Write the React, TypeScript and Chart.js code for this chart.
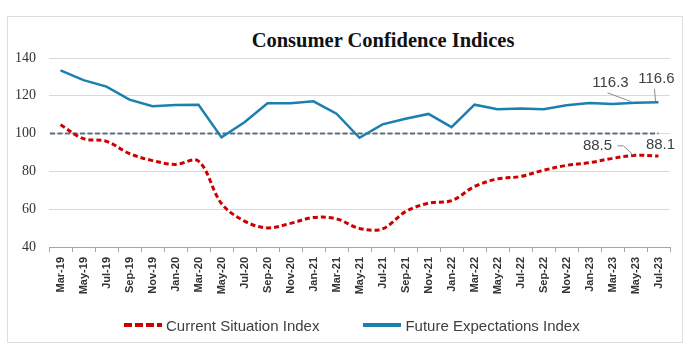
import React, { useEffect, useRef } from "react";
import { Chart, registerables } from "chart.js";

Chart.register(...registerables);

const categories = [
  "Mar-19", "May-19", "Jul-19", "Sep-19", "Nov-19", "Jan-20", "Mar-20", "May-20", "Jul-20",
  "Sep-20", "Nov-20", "Jan-21", "Mar-21", "May-21", "Jul-21", "Sep-21", "Nov-21", "Jan-22",
  "Mar-22", "May-22", "Jul-22", "Sep-22", "Nov-22", "Jan-23", "Mar-23", "May-23", "Jul-23",
];

const currentSituation = [
  104.7, 97.3, 95.9, 89.4, 85.7, 83.7, 85.4, 63.0, 53.7,
  50.1, 52.5, 55.6, 54.9, 49.8, 49.6, 58.7, 63.2, 64.5,
  72.0, 76.0, 77.3, 80.6, 83.2, 84.6, 86.9, 88.5, 88.1,
];

const futureExpectations = [
  133.5, 128.3, 124.9, 118.0, 114.5, 115.1, 115.2, 98.0, 106.0,
  116.1, 116.0, 117.1, 110.5, 97.8, 104.9, 107.9, 110.4, 103.4,
  115.3, 112.9, 113.3, 112.9, 115.0, 116.2, 115.7, 116.3, 116.6,
];

const seriesNames = ["Current Situation Index", "Future Expectations Index"];
const yTicks = { min: 40, max: 140, step: 20 };
const referenceLevel = 100;
const labelledIndices = [25, 26];

const RED = "#cc0000";
const BLUE = "#1b7fb0";
const LABEL_FONT = "'Liberation Sans', Arial, sans-serif";

const annotationPlugin = {
  id: "annotations",
  beforeDatasetsDraw(chart: any) {
    const { ctx, chartArea, scales } = chart;
    const y = scales.y.getPixelForValue(referenceLevel);
    const xEnd = scales.x.getPixelForValue(categories.length - 1);
    ctx.save();
    ctx.strokeStyle = "#5a6e80";
    ctx.lineWidth = 2;
    ctx.setLineDash([5, 2.5]);
    ctx.beginPath();
    ctx.moveTo(chartArea.left + 1, y);
    ctx.lineTo(xEnd, y);
    ctx.stroke();
    ctx.restore();
  },
  afterDatasetsDraw(chart: any) {
    const { ctx, scales } = chart;
    const pt = (ds: number[], i: number) => ({
      x: scales.x.getPixelForValue(i),
      y: scales.y.getPixelForValue(ds[i]),
    });
    ctx.save();
    ctx.font = "15px " + LABEL_FONT;
    ctx.fillStyle = "#404040";
    ctx.textAlign = "center";
    ctx.textBaseline = "middle";
    ctx.strokeStyle = "#8c8c8c";
    ctx.lineWidth = 1;

    const [iA, iB] = labelledIndices;
    let p = pt(futureExpectations, iA);
    ctx.fillText(futureExpectations[iA].toFixed(1), p.x - 25, p.y - 20);
    ctx.beginPath();
    ctx.moveTo(p.x - 28, p.y - 10);
    ctx.lineTo(p.x - 4, p.y - 1);
    ctx.stroke();

    p = pt(futureExpectations, iB);
    ctx.fillText(futureExpectations[iB].toFixed(1), p.x - 2, p.y - 23.5);
    ctx.beginPath();
    ctx.moveTo(p.x - 4, p.y - 13.5);
    ctx.lineTo(p.x - 3, p.y - 1);
    ctx.stroke();

    p = pt(currentSituation, iA);
    ctx.fillText(currentSituation[iA].toFixed(1), p.x - 38, p.y - 9);
    ctx.beginPath();
    ctx.moveTo(p.x - 18, p.y - 9.5);
    ctx.lineTo(p.x - 12, p.y - 9.5);
    ctx.lineTo(p.x - 2, p.y);
    ctx.stroke();

    p = pt(currentSituation, iB);
    ctx.fillText(currentSituation[iB].toFixed(1), p.x + 2, p.y - 11);
    ctx.restore();
  },
};

function LegendItem({ color, dash, text, gap }: { color: string; dash?: string; text: string; gap: number }) {
  return (
    <div style={{ display: "flex", alignItems: "center", marginRight: gap }}>
      <svg width={38} height={6} style={{ display: "block" }}>
        <line x1={0} y1={3} x2={38} y2={3} stroke={color} strokeWidth={4} strokeDasharray={dash} />
      </svg>
      <span style={{ marginLeft: 4 }}>{text}</span>
    </div>
  );
}

export default function App() {
  const canvasRef = useRef<HTMLCanvasElement | null>(null);

  useEffect(() => {
    if (!canvasRef.current) return;
    const chart = new Chart(canvasRef.current, {
      type: "line",
      data: {
        labels: categories,
        datasets: [
          {
            label: seriesNames[0],
            data: currentSituation,
            borderColor: RED,
            backgroundColor: RED,
            borderWidth: 3,
            borderDash: [5, 3],
            tension: 0.35,
            pointRadius: 0,
            fill: false,
          },
          {
            label: seriesNames[1],
            data: futureExpectations,
            borderColor: BLUE,
            backgroundColor: BLUE,
            borderWidth: 2.5,
            tension: 0,
            pointRadius: 0,
            fill: false,
          },
        ],
      },
      options: {
        animation: false,
        responsive: false,
        maintainAspectRatio: false,
        layout: { padding: { left: 0, right: 21, top: 58, bottom: 48 } },
        plugins: {
          title: { display: false },
          tooltip: { enabled: false },
          legend: { display: false },
        },
        scales: {
          x: {
            offset: true,
            grid: {
              offset: true,
              drawOnChartArea: false,
              drawTicks: true,
              tickLength: 5,
              color: "#a6a6a6",
            },
            border: { display: true, color: "#a6a6a6", width: 1 },
            ticks: {
              autoSkip: false,
              maxRotation: 90,
              minRotation: 90,
              padding: 5,
              color: "#333333",
              font: { family: LABEL_FONT, size: 11, weight: "bold" },
            },
            afterFit: (s: any) => {
              s.height = 60;
            },
          },
          y: {
            min: yTicks.min,
            max: yTicks.max,
            ticks: {
              stepSize: yTicks.step,
              padding: 13,
              color: "#333333",
              font: { family: "'Liberation Serif', 'Times New Roman', serif", size: 14 },
            },
            grid: { color: "#d9d9d9", drawTicks: false, lineWidth: 1 },
            border: { display: false },
            afterFit: (s: any) => {
              s.width = 49;
            },
          },
        },
      },
      plugins: [annotationPlugin],
    } as any);
    return () => chart.destroy();
  }, []);

  return (
    <div style={{ position: "absolute", left: 0, top: 0, width: 691, height: 355, background: "#ffffff" }}>
      <div
        style={{
          position: "absolute",
          left: 7,
          top: 16,
          width: 676,
          height: 327,
          border: "1px solid #dedede",
          boxSizing: "border-box",
        }}
      />
      <div
        style={{
          position: "absolute",
          left: 0,
          top: 28,
          width: 766,
          textAlign: "center",
          fontFamily: "'Liberation Serif', 'Times New Roman', serif",
          fontWeight: "bold",
          fontSize: 20.5,
          lineHeight: "24px",
          color: "#111111",
        }}
      >
        Consumer Confidence Indices
      </div>
      <canvas
        ref={canvasRef}
        width={691}
        height={355}
        style={{ position: "absolute", left: 0, top: 0, width: 691, height: 355 }}
      />
      <div
        style={{
          position: "absolute",
          left: 124,
          top: 314,
          height: 22,
          display: "flex",
          alignItems: "center",
          fontFamily: LABEL_FONT,
          fontSize: 15,
          color: "#404040",
          whiteSpace: "nowrap",
        }}
      >
        <LegendItem color={RED} dash="8 3" text={seriesNames[0]} gap={44} />
        <LegendItem color={BLUE} text={seriesNames[1]} gap={0} />
      </div>
    </div>
  );
}
